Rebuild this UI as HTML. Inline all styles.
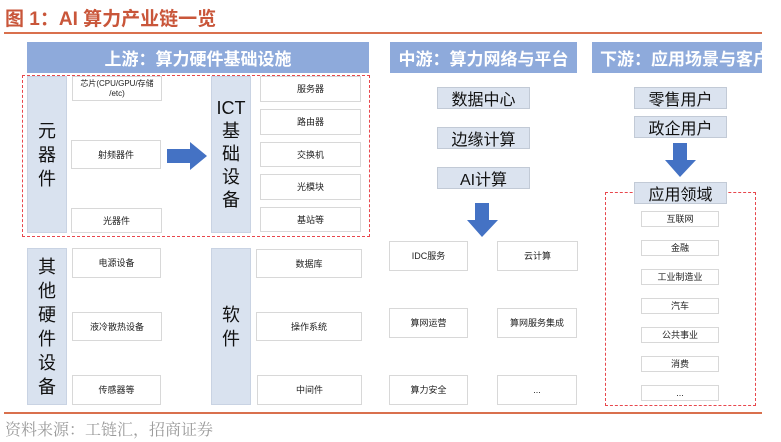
<!DOCTYPE html>
<html><head><meta charset="utf-8"><style>
*{margin:0;padding:0;box-sizing:border-box}
body{width:781px;height:442px;background:#fff;position:relative;overflow:hidden;font-family:"Liberation Sans","Noto Sans CJK SC",sans-serif}
.a{position:absolute}
.hd{position:absolute;background:#8eaadb;color:#fff;font-size:17px;display:flex;align-items:center;justify-content:center;font-weight:bold;white-space:nowrap;overflow:hidden}
.col{position:absolute;background:#d9e2ef;border:1px solid #c9d3e3;color:#111;font-size:18px;display:flex;align-items:center;justify-content:center;text-align:center;line-height:24px}
.bx{position:absolute;background:#fff;border:1.5px solid #d8d8d8;font-size:9px;color:#222;display:flex;align-items:center;justify-content:center;text-align:center;line-height:12px}
.pl{position:absolute;background:#dbe3ef;border:1px solid #c2cad6;font-size:16px;color:#111;display:flex;align-items:center;justify-content:center}
.dash{position:absolute;border:1.5px dashed #e8474d}
</style></head><body>
<div class="a" style="left:5px;top:4px;font-size:19px;font-weight:bold;color:#c9563a;white-space:nowrap">图 1：AI 算力产业链一览</div>
<div class="a" style="left:4px;top:32px;width:758px;height:2px;background:#d9704d"></div>

<div class="hd" style="left:27px;top:42px;width:342px;height:31px">上游：算力硬件基础设施</div>
<div class="hd" style="left:390px;top:42px;width:187px;height:31px">中游：算力网络与平台</div>
<div class="hd" style="left:592px;top:42px;width:170px;height:31px;justify-content:flex-start;padding-left:8px">下游：应用场景与客户</div>

<div class="dash" style="left:22px;top:75px;width:348px;height:162px"></div>
<div class="col" style="left:27px;top:76px;width:40px;height:157px">元<br>器<br>件</div>
<div class="bx" style="left:72px;top:76px;width:90px;height:25px;font-size:8px;line-height:10px">芯片(CPU/GPU/存储<br>/etc)</div>
<div class="bx" style="left:71px;top:140px;width:90px;height:29px">射频器件</div>
<div class="bx" style="left:71px;top:208px;width:91px;height:25px">光器件</div>
<svg class="a" style="left:166px;top:141px" width="43" height="30"><polygon points="1,8 24,8 24,1 41,15 24,29 24,22 1,22" fill="#4472c4"/></svg>
<div class="col" style="left:211px;top:76px;width:40px;height:157px;font-size:18px;line-height:23px">ICT<br>基<br>础<br>设<br>备</div>
<div class="bx" style="left:260px;top:76px;width:101px;height:26px">服务器</div>
<div class="bx" style="left:260px;top:109px;width:101px;height:26px">路由器</div>
<div class="bx" style="left:260px;top:142px;width:101px;height:25px">交换机</div>
<div class="bx" style="left:260px;top:174px;width:101px;height:26px">光模块</div>
<div class="bx" style="left:260px;top:207px;width:101px;height:25px">基站等</div>

<div class="col" style="left:27px;top:248px;width:40px;height:157px">其<br>他<br>硬<br>件<br>设<br>备</div>
<div class="bx" style="left:72px;top:248px;width:89px;height:30px">电源设备</div>
<div class="bx" style="left:72px;top:312px;width:90px;height:29px">液冷散热设备</div>
<div class="bx" style="left:72px;top:375px;width:89px;height:30px">传感器等</div>
<div class="col" style="left:211px;top:248px;width:40px;height:157px">软<br>件</div>
<div class="bx" style="left:256px;top:249px;width:106px;height:29px">数据库</div>
<div class="bx" style="left:256px;top:312px;width:106px;height:29px">操作系统</div>
<div class="bx" style="left:257px;top:375px;width:105px;height:30px">中间件</div>

<div class="pl" style="left:437px;top:87px;width:93px;height:22px">数据中心</div>
<div class="pl" style="left:437px;top:127px;width:93px;height:22px">边缘计算</div>
<div class="pl" style="left:437px;top:167px;width:93px;height:22px">AI计算</div>
<svg class="a" style="left:466px;top:202px" width="33" height="36"><polygon points="9,1 23,1 23,18 32,18 16,35 1,18 9,18" fill="#4472c4"/></svg>
<div class="bx" style="left:389px;top:241px;width:79px;height:30px">IDC服务</div>
<div class="bx" style="left:497px;top:241px;width:81px;height:30px">云计算</div>
<div class="bx" style="left:389px;top:308px;width:79px;height:30px">算网运营</div>
<div class="bx" style="left:497px;top:308px;width:80px;height:30px">算网服务集成</div>
<div class="bx" style="left:389px;top:375px;width:79px;height:30px">算力安全</div>
<div class="bx" style="left:497px;top:375px;width:80px;height:30px">...</div>

<div class="pl" style="left:634px;top:87px;width:93px;height:22px">零售用户</div>
<div class="pl" style="left:634px;top:116px;width:93px;height:22px">政企用户</div>
<svg class="a" style="left:664px;top:142px" width="33" height="36"><polygon points="9,1 23,1 23,18 32,18 16,35 1,18 9,18" fill="#4472c4"/></svg>
<div class="dash" style="left:605px;top:192px;width:151px;height:214px"></div>
<div class="pl" style="left:634px;top:182px;width:93px;height:22px">应用领域</div>
<div class="bx" style="left:641px;top:211px;width:78px;height:16px">互联网</div>
<div class="bx" style="left:641px;top:240px;width:78px;height:16px">金融</div>
<div class="bx" style="left:641px;top:269px;width:78px;height:16px">工业制造业</div>
<div class="bx" style="left:641px;top:298px;width:78px;height:16px">汽车</div>
<div class="bx" style="left:641px;top:327px;width:78px;height:16px">公共事业</div>
<div class="bx" style="left:641px;top:356px;width:78px;height:16px">消费</div>
<div class="bx" style="left:641px;top:385px;width:78px;height:16px">...</div>

<div class="a" style="left:4px;top:412px;width:758px;height:2px;background:#d9704d"></div>
<div class="a" style="left:5px;top:417px;font-size:16px;color:#9a9a9a;font-family:'Noto Serif CJK SC',serif;white-space:nowrap">资料来源：工链汇，招商证券</div>
</body></html>
